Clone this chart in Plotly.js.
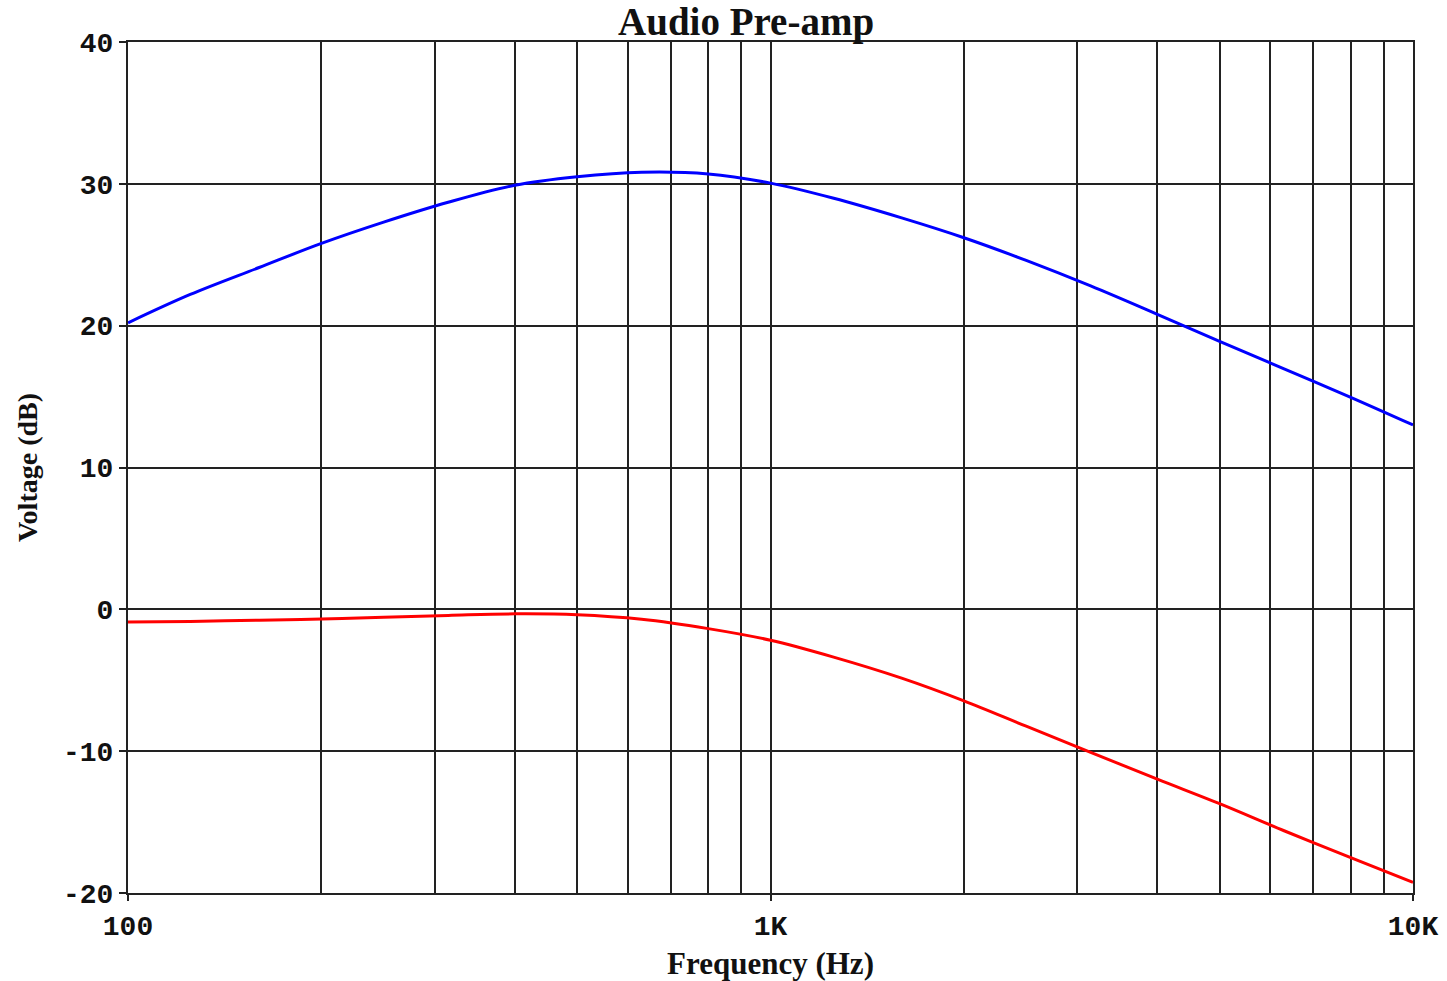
<!DOCTYPE html>
<html>
<head>
<meta charset="utf-8">
<script src="https://cdn.plot.ly/plotly-3.0.1.min.js"></script>
<style>html,body{margin:0;padding:0;background:#fff;}#chart{width:1447px;height:981px;}</style>
</head>
<body>
<div id="chart"></div>
<script>
// Frequency points (Hz)
const freqHz = [100,125,160,200,250,315,400,500,630,800,1000,1250,1600,2000,2500,3150,4000,5000,6300,8000,10000];
// Upper trace (blue), dB
const blueDb = [20.2,22.2,24.1,25.8,27.3,28.7,29.9,30.5,30.82,30.7,30.05,29.0,27.6,26.2,24.6,22.8,20.8,18.9,16.96,14.95,13.0];
// Lower trace (red), dB
const redDb = [-0.9,-0.85,-0.77,-0.68,-0.55,-0.43,-0.32,-0.38,-0.7,-1.36,-2.18,-3.35,-4.85,-6.45,-8.24,-10.08,-11.97,-13.7,-15.61,-17.5,-19.25];

const xTickVals = [100,1000,10000];
const xTickText = ['100','1K','10K'];
const xMinorVals = [200,300,400,500,600,700,800,900,2000,3000,4000,5000,6000,7000,8000,9000];
const yTickVals = [-20,-10,0,10,20,30,40];
const yTickText = ['-20','-10','0','10','20','30','40'];

const gridColor = '#222222';
const tickFont = {family: '"Liberation Mono", "Courier New", monospace', size: 28, color: '#111', weight: 'bold'};
const titleFontFamily = '"Liberation Serif", "Times New Roman", serif';

const traces = [
  {x: freqHz, y: blueDb, type: 'scatter', mode: 'lines', line: {color: '#0000ff', width: 3, shape: 'spline', smoothing: 1}, showlegend: false, hoverinfo: 'x+y'},
  {x: freqHz, y: redDb, type: 'scatter', mode: 'lines', line: {color: '#ff0000', width: 3, shape: 'spline', smoothing: 1}, showlegend: false, hoverinfo: 'x+y'}
];

const layout = {
  width: 1447, height: 981,
  margin: {l: 128, r: 34, t: 42, b: 88, pad: 0},
  paper_bgcolor: '#ffffff', plot_bgcolor: '#ffffff',
  title: {text: '<b>Audio Pre-amp</b>', font: {family: titleFontFamily, size: 39, color: '#111'}, xref: 'container', x: 0.5156, xanchor: 'center', yref: 'container', y: 0.978, yanchor: 'middle'},
  xaxis: {
    type: 'log', range: [2, 4],
    tickmode: 'array', tickvals: xTickVals, ticktext: xTickText,
    ticks: 'outside', ticklen: 6, tickwidth: 2, tickcolor: gridColor,
    tickfont: tickFont,
    showgrid: true, gridcolor: gridColor, gridwidth: 2,
    minor: {tickmode: 'array', tickvals: xMinorVals, showgrid: true, gridcolor: gridColor, gridwidth: 2, ticks: ''},
    showline: true, linecolor: gridColor, linewidth: 2, mirror: true,
    zeroline: false,
    title: {text: '<b>Frequency (Hz)</b>', font: {family: titleFontFamily, size: 31, color: '#111'}, standoff: 12}
  },
  yaxis: {
    range: [-20, 40],
    tickmode: 'array', tickvals: yTickVals, ticktext: yTickText,
    ticks: 'outside', ticklen: 7, tickwidth: 2, tickcolor: gridColor,
    tickfont: tickFont,
    showgrid: true, gridcolor: gridColor, gridwidth: 2,
    showline: true, linecolor: gridColor, linewidth: 2, mirror: true,
    zeroline: false,
    title: {text: '<b>Voltage (dB)</b>', font: {family: titleFontFamily, size: 28, color: '#111'}, standoff: 17}
  }
};

Plotly.newPlot('chart', traces, layout, {displayModeBar: false, staticPlot: true});
</script>
</body>
</html>
